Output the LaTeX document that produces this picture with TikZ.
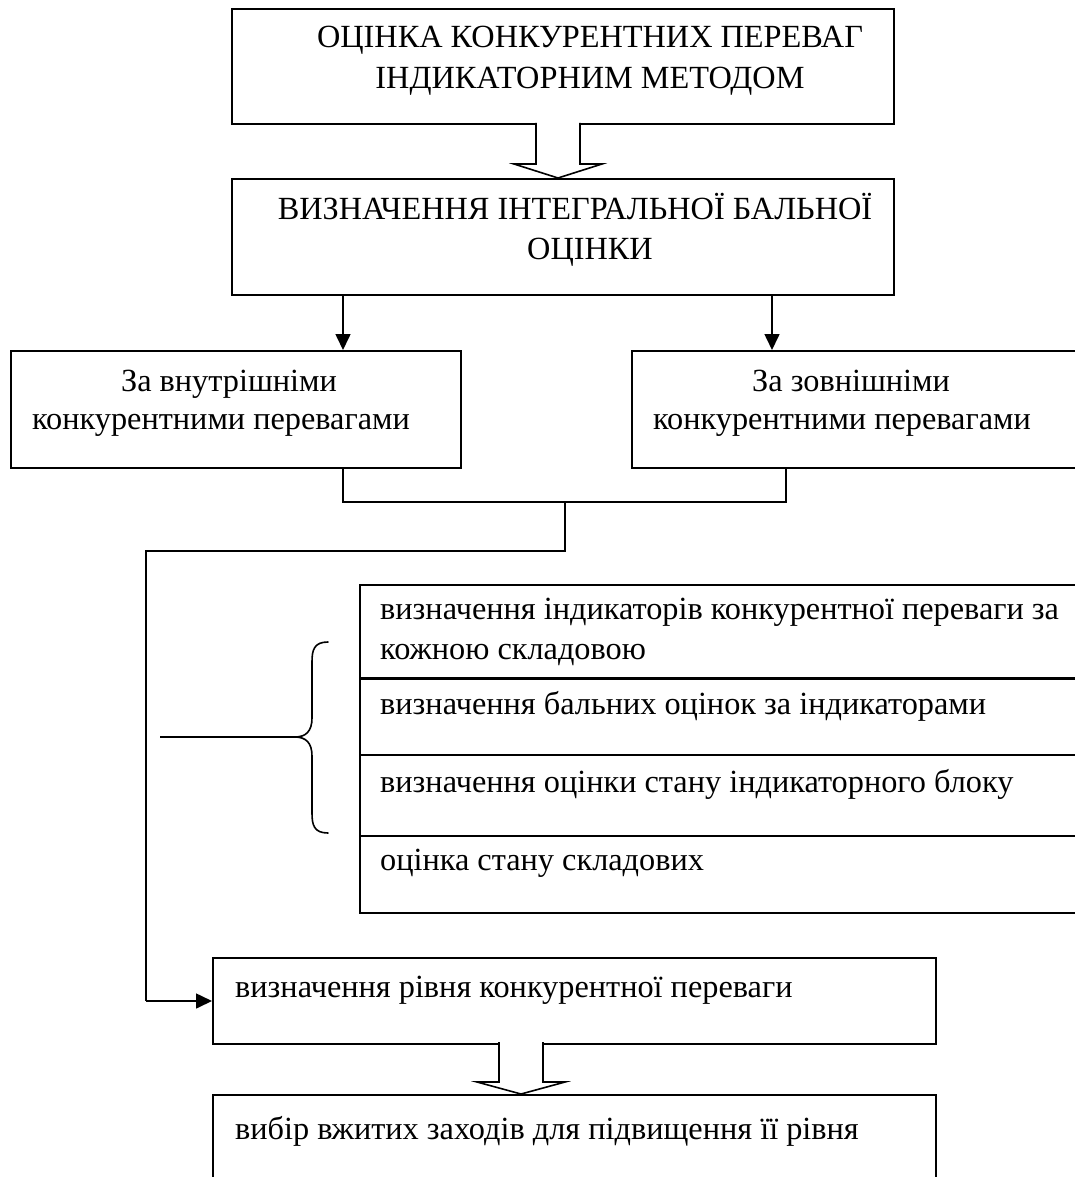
\documentclass[tikz,border=0pt]{standalone}
\usepackage{fontspec}
\setmainfont{Liberation Serif}
\usetikzlibrary{arrows.meta}
\tikzset{
  boxshape/.style={draw, line width=1.6pt, rectangle, inner sep=0pt, anchor=north west},
  txt/.style={inner sep=0pt, font=\fontsize{32.3}{40}\selectfont},
  conn/.style={line width=1.6pt},
  arr/.style={line width=1.6pt, -{Triangle[length=16pt,width=15pt]}},
  hollow/.style={line width=1.6pt, line join=miter, fill=white},
}
\begin{document}
\begin{tikzpicture}[x=1pt,y=-1pt]
\clip (0,0) rectangle (1075,1177);
\fill[white] (0,0) rectangle (1075,1177);
% boxes
\node[boxshape, minimum width=662pt, minimum height=115pt] (top) at (231,8) {};
\node[boxshape, minimum width=662pt, minimum height=116pt] (second) at (231,178) {};
\node[boxshape, minimum width=450pt, minimum height=117pt] (left) at (10,350) {};
\node[boxshape, minimum width=480pt, minimum height=117pt] (right) at (631,350) {};
\node[boxshape, minimum width=760pt, minimum height=94pt] (r1) at (359,584) {};
\node[boxshape, minimum width=760pt, minimum height=77pt] (r2) at (359,677) {};
\node[boxshape, minimum width=760pt, minimum height=81pt] (r3) at (359,754) {};
\node[boxshape, minimum width=760pt, minimum height=77pt] (r4) at (359,835) {};
\node[boxshape, minimum width=723pt, minimum height=86pt] (level) at (212,957) {};
\node[boxshape, minimum width=723pt, minimum height=110pt] (choice) at (212,1094) {};
% texts
\node[txt, anchor=base] (t1a) at (590,48) {ОЦІНКА КОНКУРЕНТНИХ ПЕРЕВАГ};
\node[txt, anchor=base] (t1b) at (590,89) {ІНДИКАТОРНИМ МЕТОДОМ};
\node[txt, anchor=base] (t2a) at (575,219) {ВИЗНАЧЕННЯ ІНТЕГРАЛЬНОЇ БАЛЬНОЇ};
\node[txt, anchor=base] (t2b) at (590,259) {ОЦІНКИ};
\node[txt, anchor=base] (t3a) at (229,391) {За внутрішніми};
\node[txt, anchor=base] (t3b) at (221,429) {конкурентними перевагами};
\node[txt, anchor=base] (t4a) at (851,391) {За зовнішніми};
\node[txt, anchor=base] (t4b) at (842,429) {конкурентними перевагами};
\node[txt, anchor=base west] (t5a) at (380,619) {визначення індикаторів конкурентної переваги за};
\node[txt, anchor=base west] (t5b) at (380,659) {кожною складовою};
\node[txt, anchor=base west] (t6) at (380,714) {визначення бальних оцінок за індикаторами};
\node[txt, anchor=base west] (t7) at (380,792) {визначення оцінки стану індикаторного блоку};
\node[txt, anchor=base west] (t8) at (380,870) {оцінка стану складових};
\node[txt, anchor=base west] (t9) at (235,997) {визначення рівня конкурентної переваги};
\node[txt, anchor=base west] (t10) at (235,1139) {вибір вжитих заходів для підвищення її рівня};
% hollow arrows
\draw[hollow] (536,123) -- (536,164) -- (514,164) -- (558,178) -- (602,164) -- (580,164) -- (580,123);
\draw[hollow] (499,1042) -- (499,1082) -- (477,1082) -- (521,1094) -- (565,1082) -- (543,1082) -- (543,1042);
% arrows to the two boxes
\draw[arr] (second.south -| 343,0) -- (left.north -| 343,0);
\draw[arr] (second.south -| 772,0) -- (right.north -| 772,0);
% connector
\coordinate (jl) at (343,502);
\coordinate (jr) at (786,502);
\coordinate (jm) at (565,502);
\coordinate (jd) at (565,551);
\coordinate (jc) at (146,551);
\coordinate (je) at (146,1001);
\draw[conn] (left.south -| jl) -- (jl) -- (jr) -- (right.south -| jr);
\draw[conn] (jm) -- (jd) -- (jc) -- (je);
\draw[arr] (je) -- (level.west |- je);
% brace
\coordinate (btip) at (295,737);
\coordinate (bline) at (160,737);
\draw[conn] (bline) -- (btip);
\draw[conn, line cap=round] (328,642) .. controls (314,642) and (312,650) .. (312,662) -- (312,718)
  .. controls (312,731) and (306,737) .. (btip)
  .. controls (306,737) and (312,743) .. (312,756) -- (312,813)
  .. controls (312,825) and (314,833) .. (328,833);
\end{tikzpicture}
\end{document}
